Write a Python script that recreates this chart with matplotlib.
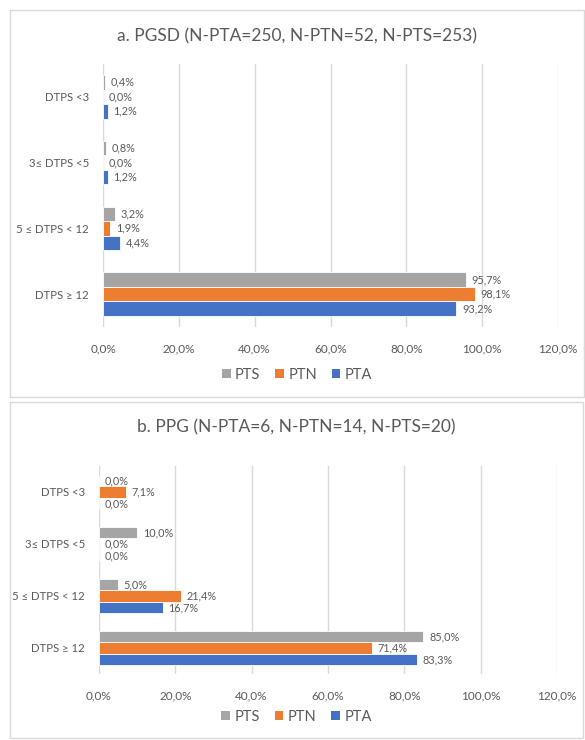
import matplotlib.pyplot as plt
from matplotlib.patches import Rectangle, Patch

categories = ['DTPS <3', '3≤ DTPS <5', '5 ≤ DTPS < 12', 'DTPS ≥ 12']
series = ['PTS', 'PTN', 'PTA']
colors = ['#A5A5A5', '#ED7D31', '#4472C4']

titles = ['a. PGSD (N-PTA=250, N-PTN=52, N-PTS=253)',
          'b. PPG (N-PTA=6, N-PTN=14, N-PTS=20)']

pgsd_pts = [0.4, 0.8, 3.2, 95.7]
pgsd_ptn = [0.0, 0.0, 1.9, 98.1]
pgsd_pta = [1.2, 1.2, 4.4, 93.2]

ppg_pts = [0.0, 10.0, 5.0, 85.0]
ppg_ptn = [7.1, 0.0, 21.4, 71.4]
ppg_pta = [0.0, 0.0, 16.7, 83.3]

xticks = [0, 20, 40, 60, 80, 100, 120]

plt.rcParams['font.family'] = ['Lato', 'DejaVu Sans']
txt = '#595959'
grid = '#D9D9D9'

W, H = 585, 740
fig = plt.figure(figsize=(W / 100, H / 100), dpi=100)


def px(x0, y0, x1, y1):
    # pixel box (top-left origin) -> figure fraction rect
    return [x0 / W, 1 - y1 / H, (x1 - x0) / W, (y1 - y0) / H]


def pct(v):
    return ('%.1f%%' % v).replace('.', ',')


panels = [
    dict(data=[pgsd_pts, pgsd_ptn, pgsd_pta], box=(10, 10, 584, 397),
         ax=(103, 64, 558, 327), title_y=36, leg_y=375),
    dict(data=[ppg_pts, ppg_ptn, ppg_pta], box=(10, 402, 583, 738),
         ax=(99, 466, 557, 674), title_y=427, leg_y=717),
]

bh = 0.22
for p, title in zip(panels, titles):
    x0, y0, x1, y1 = p['box']
    fig.patches.append(Rectangle((x0 / W, 1 - y1 / H), (x1 - x0) / W, (y1 - y0) / H,
                                 transform=fig.transFigure, fill=False,
                                 edgecolor=grid, lw=1))
    ax = fig.add_axes(px(*p['ax']))
    for k, (vals, c) in enumerate(zip(p['data'], colors)):
        off = (k - 1) * bh
        ys = [i + off for i in range(len(categories))]
        ax.barh(ys, vals, height=bh, color=c, edgecolor='white', lw=0.6, zorder=3)
        for y, v in zip(ys, vals):
            ax.text(v + 1.5, y, pct(v), va='center', ha='left', fontsize=7.8,
                    color=txt, zorder=4)
    ax.set_xlim(0, 120)
    ax.set_ylim(len(categories) - 0.5, -0.5)
    ax.set_xticks(xticks)
    ax.set_xticklabels([pct(t) for t in xticks], fontsize=8.5, color=txt)
    ax.set_yticks(range(len(categories)))
    ax.set_yticklabels(categories, fontsize=8.2, color=txt)
    ax.tick_params(length=0)
    ax.tick_params(axis='x', pad=12)
    ax.tick_params(axis='y', pad=10)
    ax.grid(axis='x', color=grid, lw=1, zorder=0)
    for s in ax.spines.values():
        s.set_visible(False)
    fig.text(0.5 * (x0 + x1) / W, 1 - p['title_y'] / H, title, ha='center',
             va='center', fontsize=12.5, color=txt)
    handles = [Patch(facecolor=c, label=s) for s, c in zip(series, colors)]
    fig.legend(handles=handles, loc='center', ncol=3, frameon=False,
               bbox_to_anchor=(0.5 * (x0 + x1) / W, 1 - p['leg_y'] / H),
               fontsize=10.5, labelcolor=txt, handlelength=0.6, handleheight=0.6,
               handletextpad=0.3, columnspacing=1.0)

fig.savefig('out.png', dpi=100)
